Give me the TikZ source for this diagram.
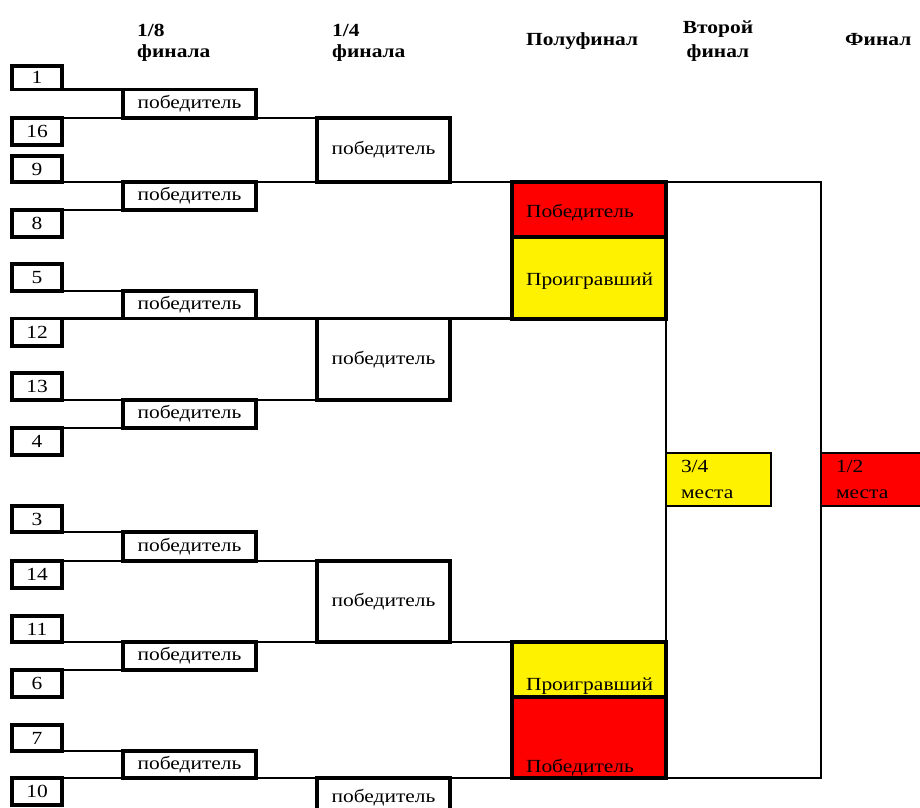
\documentclass[tikz,border=0pt]{standalone}
\usepackage{fontspec}
\setmainfont{Liberation Serif}[FakeStretch=1.16]

\tikzset{
  seedbox/.style={draw, line width=3.2pt, inner sep=0pt, outer sep=0pt, minimum width=50pt},
  winbox/.style={draw, line width=3.2pt, inner sep=0pt, outer sep=0pt, minimum width=133pt},
  semibox/.style={draw, line width=4pt, inner xsep=14pt, inner ysep=0pt, outer sep=0pt, text width=126pt, align=left},
  placebox/.style={draw, line width=2.2pt, inner xsep=15pt, inner ysep=0pt, outer sep=0pt, text width=75pt, align=left, minimum height=53pt},
  heading/.style={font=\fontsize{18.5}{21}\selectfont\bfseries, align=left, inner sep=0pt},
  link/.style={line width=2.2pt},
}

\begin{document}
\begin{tikzpicture}[x=1pt, y=-1pt, every node/.style={font=\fontsize{18.5}{25.5}\selectfont}]
\useasboundingbox (0,0) rectangle (920,807);
\clip (0,0) rectangle (920,807);
\fill[white] (0,0) rectangle (920,807);

% headings
\node[heading, anchor=base west] (h8) at (137,57) {1/8\\финала};
\node[heading, anchor=base west] (h4) at (332,57) {1/4\\финала};
\node[heading, anchor=base west] (hsemi) at (526,45) {Полуфинал};
\node[heading, align=center, font=\fontsize{18.5}{24}\selectfont\bfseries, anchor=base] (hsecond) at (718,57) {Второй\\финал};
\node[heading, anchor=base west] (hfinal) at (845,45) {Финал};

% seeds
\node[seedbox, minimum height=23.5pt] (s1) at (37,77.75) {1};
\node[seedbox, minimum height=27pt] (s16) at (37,131.5) {16};
\node[seedbox, minimum height=26pt] (s9) at (37,169) {9};
\node[seedbox, minimum height=27pt] (s8) at (37,223.5) {8};
\node[seedbox, minimum height=27pt] (s5) at (37,277.5) {5};
\node[seedbox, minimum height=27.5pt] (s12) at (37,332.25) {12};
\node[seedbox, minimum height=27pt] (s13) at (37,386.5) {13};
\node[seedbox, minimum height=27pt] (s4) at (37,441.5) {4};
\node[seedbox, minimum height=26pt] (s3) at (37,519) {3};
\node[seedbox, minimum height=27pt] (s14) at (37,574.5) {14};
\node[seedbox, minimum height=26pt] (s11) at (37,629) {11};
\node[seedbox, minimum height=27pt] (s6) at (37,683.5) {6};
\node[seedbox, minimum height=26pt] (s7) at (37,738) {7};
\node[seedbox, minimum height=27pt] (s10) at (37,791.5) {10};

% 1/8 winners
\node[winbox, minimum height=28.5pt] (w1) at (189.5,103.75) {победитель};
\node[winbox, minimum height=28pt] (w2) at (189.5,196) {победитель};
\node[winbox, minimum height=27.5pt] (w3) at (189.5,304.75) {победитель};
\node[winbox, minimum height=28pt] (w4) at (189.5,414) {победитель};
\node[winbox, minimum height=29pt] (w5) at (189.5,546.5) {победитель};
\node[winbox, minimum height=28pt] (w6) at (189.5,656) {победитель};
\node[winbox, minimum height=27pt] (w7) at (189.5,764.5) {победитель};

% 1/4 winners
\node[winbox, minimum height=64pt] (q1) at (383.5,150) {победитель};
\node[winbox, minimum height=81.5pt] (q2) at (383.5,359.25) {победитель};
\node[winbox, minimum height=81pt] (q3) at (383.5,601.5) {победитель};
\node[winbox, minimum height=40pt] (q4) at (383.5,798) {победитель};

% semifinals
\node[semibox, fill=red, text height=35pt, text depth=20pt] (sf1w) at (589,209.5) {Победитель};
\node[semibox, fill=yellow, text height=48pt, text depth=33.5pt] (sf1l) at (589,277.75) {Проигравший};
\node[semibox, fill=yellow, text height=48pt, text depth=7pt] (sf2l) at (589,669.5) {Проигравший};
\node[semibox, fill=red, text height=75pt, text depth=6pt] (sf2w) at (589,737.5) {Победитель};

% places
\node[placebox, fill=yellow] (bronze) at (718.5,479.5) {3/4\\места};
\node[placebox, fill=red, text width=84pt] (gold) at (878,479.5) {1/2\\места};

% bracket lines
\draw[link] (s1.south east) -- (w1.north west);
\draw[link] (s16.north east) -- (q1.north west);
\draw[link] (s9.south east) -- (sf1w.north west);
\draw[link] (s8.north east) -- (w2.south west);
\draw[link] (s5.south east) -- (w3.north west);
\draw[link] (s12.north east) -- (sf1l.south west);
\draw[link] (s13.south east) -- (q2.south west);
\draw[link] (s4.north east) -- (w4.south west);
\draw[link] (s3.south east) -- (w5.north west);
\draw[link] (s14.north east) -- (q3.north west);
\draw[link] (s11.south east) -- (sf2l.north west);
\draw[link] (s6.north east) -- (w6.south west);
\draw[link] (s7.south east) -- (w7.north west);
\draw[link] (s10.north east) -- (sf2w.south west);
\draw[link] (sf1w.north east) -| (gold.north west);
\draw[link] (gold.south west) |- (sf2w.south east);
\draw[link] (sf1l.south east) -- (bronze.north west);
\draw[link] (bronze.south west) -- (sf2l.north east);
\end{tikzpicture}
\end{document}
